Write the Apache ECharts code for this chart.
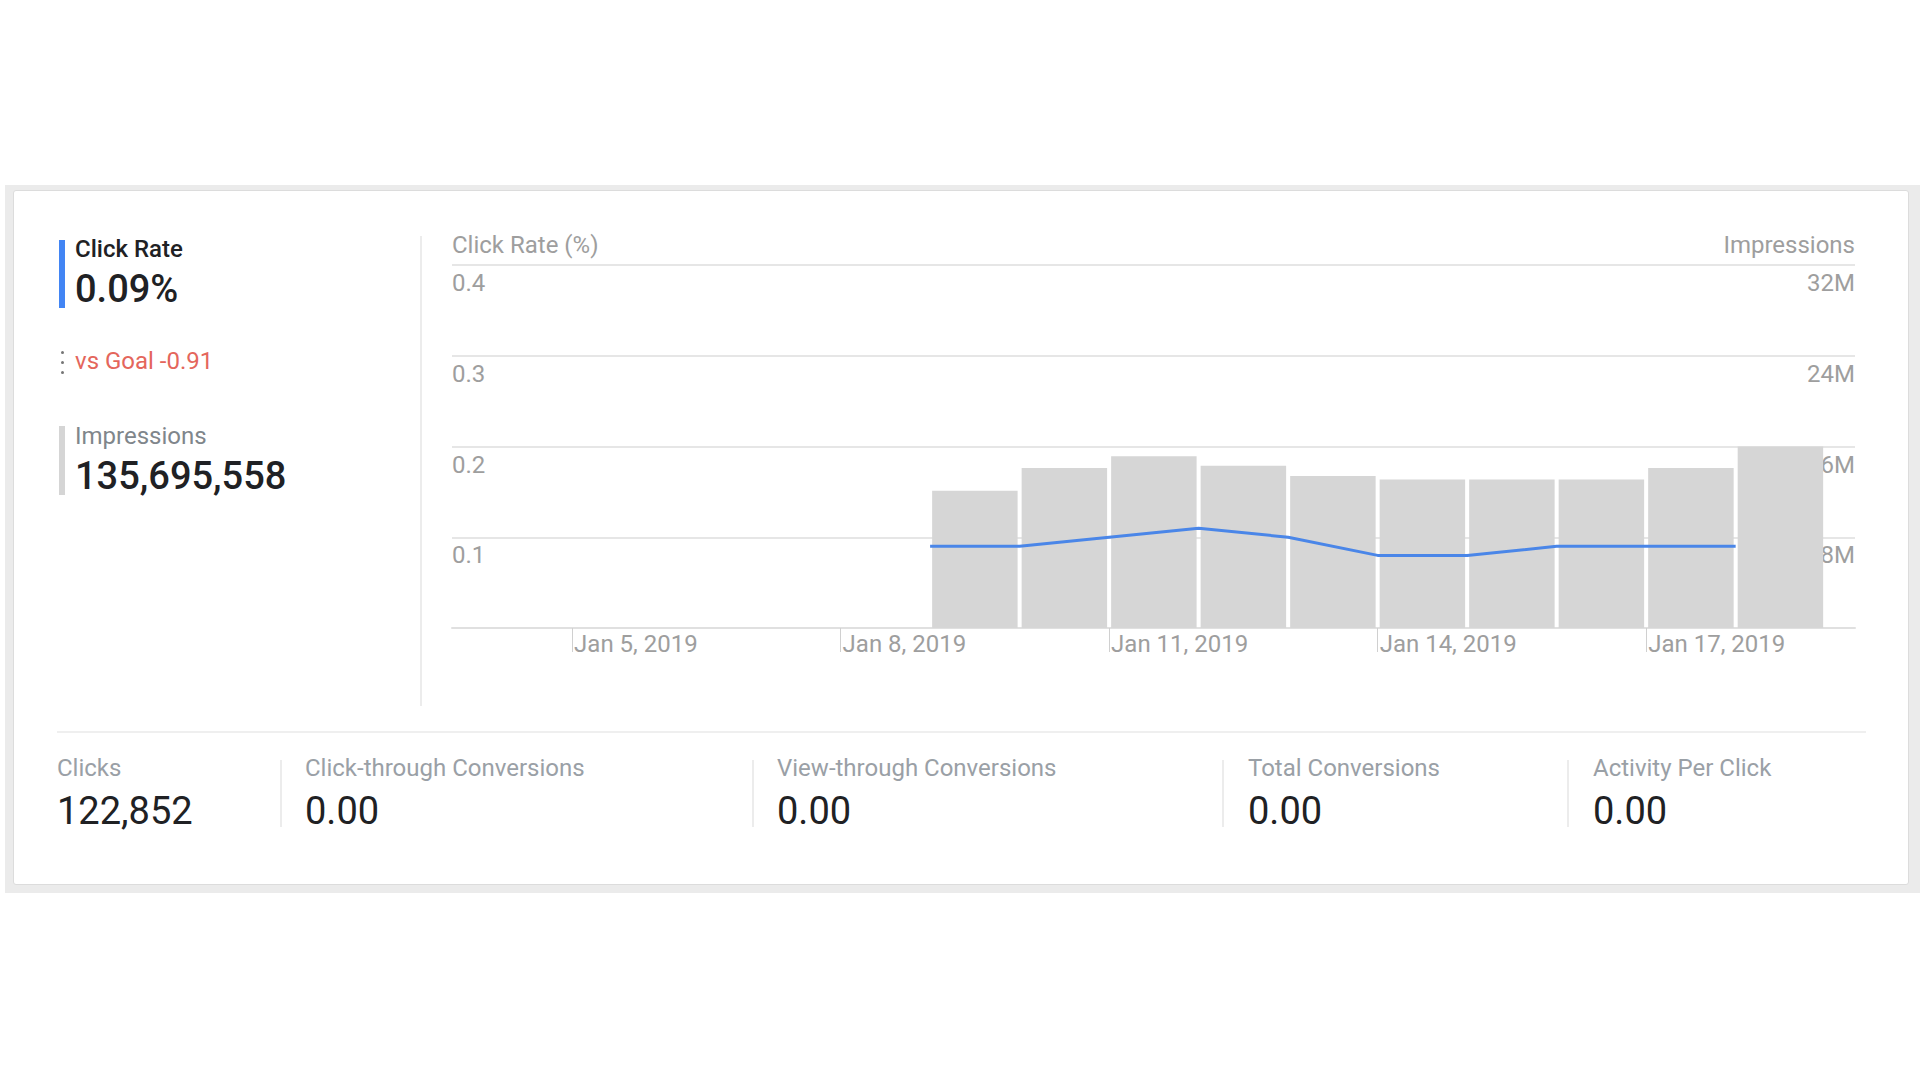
<!DOCTYPE html>
<html>
<head>
<meta charset="utf-8">
<script src="https://cdn.jsdelivr.net/npm/echarts@6/dist/echarts.min.js"></script>
<style>
html,body{margin:0;padding:0;width:1920px;height:1080px;background:#fff;overflow:hidden;font-family:Roboto,"Noto Sans",Arial,sans-serif;}
.abs{position:absolute;white-space:nowrap;}
#outer{position:absolute;left:5px;top:185px;width:1915px;height:708px;background:#ebebeb;}
#card{position:absolute;left:13px;top:190px;width:1894px;height:693px;background:#fff;border:1px solid #dcdcdc;border-radius:3px;}
#chart{position:absolute;left:0;top:0;width:1920px;height:1080px;z-index:1;}
.kpi{z-index:2;color:#202124;}
.lbl{font-size:24px;line-height:28px;color:#9aa0a6;}
.big{font-size:38px;line-height:44px;font-weight:500;color:#202124;}
.val{font-size:38px;line-height:44px;font-weight:400;color:#202124;}
.vline{position:absolute;width:2px;background:#ececec;z-index:2;}
.dot{position:absolute;left:61px;width:3px;height:3px;border-radius:50%;background:#757575;z-index:2;}
</style>
</head>
<body>
<div id="outer"></div>
<div id="card"></div>
<div id="chart"></div>

<!-- left KPI panel -->
<div class="abs" style="left:59px;top:240px;width:6px;height:68px;background:#4285f4;z-index:2;"></div>
<div class="abs kpi" style="left:75px;top:235px;font-size:24px;line-height:28px;font-weight:500;color:#202124;">Click Rate</div>
<div class="abs kpi big" style="left:75px;top:267px;">0.09%</div>
<div class="dot" style="top:351px;"></div>
<div class="dot" style="top:361px;"></div>
<div class="dot" style="top:371px;"></div>
<div class="abs kpi" style="left:75px;top:347px;font-size:24px;line-height:28px;color:#e4665c;">vs Goal -0.91</div>
<div class="abs" style="left:59px;top:426px;width:6px;height:69px;background:#d5d5d5;z-index:2;"></div>
<div class="abs kpi lbl" style="left:75px;top:422px;color:#80868b;">Impressions</div>
<div class="abs kpi big" style="left:75px;top:454px;">135,695,558</div>

<div class="vline" style="left:420px;top:236px;height:470px;"></div>
<div class="abs" style="left:57px;top:731px;width:1809px;height:2px;background:#efefef;z-index:2;"></div>

<!-- bottom metrics -->
<div class="abs kpi lbl" style="left:57px;top:754px;">Clicks</div>
<div class="abs kpi val" style="left:57px;top:789px;">122,852</div>
<div class="vline" style="left:280px;top:760px;height:67px;"></div>
<div class="abs kpi lbl" style="left:305px;top:754px;">Click-through Conversions</div>
<div class="abs kpi val" style="left:305px;top:789px;">0.00</div>
<div class="vline" style="left:752px;top:760px;height:67px;"></div>
<div class="abs kpi lbl" style="left:777px;top:754px;">View-through Conversions</div>
<div class="abs kpi val" style="left:777px;top:789px;">0.00</div>
<div class="vline" style="left:1222px;top:760px;height:67px;"></div>
<div class="abs kpi lbl" style="left:1248px;top:754px;">Total Conversions</div>
<div class="abs kpi val" style="left:1248px;top:789px;">0.00</div>
<div class="vline" style="left:1567px;top:760px;height:67px;"></div>
<div class="abs kpi lbl" style="left:1593px;top:754px;">Activity Per Click</div>
<div class="abs kpi val" style="left:1593px;top:789px;">0.00</div>

<script>
// ---- data ----
const dates = ['2019-01-09','2019-01-10','2019-01-11','2019-01-12','2019-01-13','2019-01-14','2019-01-15','2019-01-16','2019-01-17','2019-01-18'];
const impressions = [12100000, 14100000, 15150000, 14300000, 13400000, 13100000, 13100000, 13100000, 14100000, 16000000];
const clickRate = [0.09, 0.09, 0.10, 0.11, 0.10, 0.08, 0.08, 0.09, 0.09, 0.09];
const xTickDates = ['2019-01-05','2019-01-08','2019-01-11','2019-01-14','2019-01-17'];
const xTickLabels = ['Jan 5, 2019','Jan 8, 2019','Jan 11, 2019','Jan 14, 2019','Jan 17, 2019'];
const leftAxisName = 'Click Rate (%)';
const rightAxisName = 'Impressions';

// ---- helpers ----
const HOUR = 3600000, DAY = 24 * HOUR;
function ts(s) { const p = s.split('-').map(Number); return Date.UTC(p[0], p[1] - 1, p[2]); }
const tickValues = xTickDates.map(ts);
const tickLabelMap = {};
tickValues.forEach((v, i) => { tickLabelMap[v] = xTickLabels[i]; });
const xMin = ts('2019-01-03') + 15.8 * HOUR;
const xMax = ts('2019-01-19') + 8.0 * HOUR;

const labelColor = '#9e9e9e';
const font = 'Roboto, "Noto Sans", sans-serif';
const fs = 24;

const chart = echarts.init(document.getElementById('chart'), null, { renderer: 'svg' });
chart.setOption({
  animation: false,
  backgroundColor: 'transparent',
  grid: { left: 452, right: 65, top: 265, bottom: 452, containLabel: false },
  xAxis: {
    type: 'value',
    min: xMin,
    max: xMax,
    splitLine: { show: false },
    axisLine: { show: true, lineStyle: { color: '#e0e0e0', width: 2 } },
    axisTick: { show: true, customValues: tickValues, length: 24, lineStyle: { color: '#d0d0d0', width: 1 } },
    axisLabel: {
      customValues: tickValues,
      formatter: v => tickLabelMap[v] || '',
      align: 'left', margin: 4, padding: [0, 0, 0, 2],
      color: labelColor, fontSize: fs, fontFamily: font
    }
  },
  yAxis: [
    {
      type: 'value', min: 0, max: 0.4, interval: 0.1, position: 'left',
      name: leftAxisName, nameLocation: 'end', nameGap: 20,
      nameTextStyle: { align: 'left', verticalAlign: 'middle', color: labelColor, fontSize: fs, fontFamily: font },
      axisLine: { show: false }, axisTick: { show: false },
      splitLine: { show: true, lineStyle: { color: '#e6e6e6', width: 2 } },
      axisLabel: {
        inside: true, margin: 0, align: 'left', verticalAlign: 'top', padding: [6, 0, 0, 0],
        showMinLabel: false, formatter: v => v.toFixed(1),
        color: labelColor, fontSize: fs, fontFamily: font
      }
    },
    {
      type: 'value', min: 0, max: 32000000, interval: 8000000, position: 'right',
      name: rightAxisName, nameLocation: 'end', nameGap: 20,
      nameTextStyle: { align: 'right', verticalAlign: 'middle', color: labelColor, fontSize: fs, fontFamily: font },
      axisLine: { show: false }, axisTick: { show: false },
      splitLine: { show: false },
      axisLabel: {
        inside: true, margin: 0, align: 'right', verticalAlign: 'top', padding: [6, 0, 0, 0],
        showMinLabel: false, formatter: v => (v / 1000000) + 'M',
        color: labelColor, fontSize: fs, fontFamily: font
      }
    }
  ],
  series: [
    {
      type: 'bar', xAxisIndex: 0, yAxisIndex: 1,
      barWidth: '95.5%',
      itemStyle: { color: '#d6d6d6' },
      data: dates.map((d, i) => [ts(d) + DAY / 2, impressions[i]])
    },
    {
      type: 'line', xAxisIndex: 0, yAxisIndex: 0,
      showSymbol: false, symbol: 'none', z: 3,
      lineStyle: { color: '#4a86e8', width: 3 },
      data: dates.map((d, i) => [ts(d), clickRate[i]])
    }
  ]
});
</script>
</body>
</html>
